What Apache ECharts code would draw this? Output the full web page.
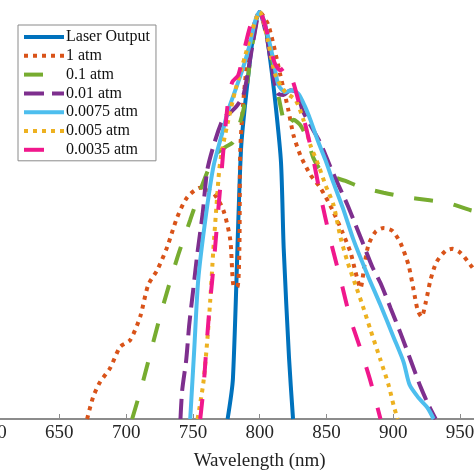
<!DOCTYPE html>
<html>
<head>
<meta charset="utf-8">
<script src="https://cdn.jsdelivr.net/npm/echarts@6/dist/echarts.min.js"></script>
<style>html,body{margin:0;padding:0;background:#fff}#c{width:474px;height:474px}</style>
</head>
<body>
<div id="c"></div>
<script>
// Series names (legend order)
const seriesNames = ['Laser Output', '1 atm', '0.1 atm', '0.01 atm', '0.0075 atm', '0.005 atm', '0.0035 atm'];
// x-axis ticks (nm)
const xTicks = [600, 650, 700, 750, 800, 850, 900, 950, 1000];

// [wavelength nm, normalized intensity]
const laserOutput = [[776,0],[780,0.1],[786,0.66],[791,0.83],[796,0.96],[800,1],[804,0.97],[808,0.88],[812,0.77],[816,0.63],[818,0.42],[822,0.15],[825,0]];
const atm1 = [[670.8,0],[675.3,0.054],[680.5,0.091],[688,0.125],[695.5,0.177],[703,0.194],[710.5,0.251],[716.5,0.329],[723.3,0.366],[730.8,0.423],[738.3,0.496],[745.8,0.545],[755.5,0.568],[765.3,0.555],[772.8,0.513],[778,0.44],[780.3,0.329],[783.3,0.324],[784.8,0.415],[785.5,0.661],[788.5,0.808],[793,0.931],[800,1],[806.5,0.968],[815.5,0.845],[821.5,0.759],[825.3,0.698],[830.5,0.648],[838,0.6],[845.5,0.568],[854.5,0.514],[862,0.459],[868,0.41],[871.8,0.361],[875.5,0.322],[878.5,0.378],[881.5,0.428],[886.8,0.46],[892.8,0.469],[899.5,0.462],[905.5,0.432],[911.5,0.378],[915.3,0.317],[918.3,0.268],[921.3,0.251],[924.3,0.285],[928,0.342],[932.5,0.386],[939.3,0.413],[944.5,0.418],[950.5,0.408],[958,0.378],[965.5,0.346],[973,0.32]];
const atm01 = [[704.5,0],[712,0.084],[720.3,0.189],[727.8,0.28],[738.3,0.396],[748,0.489],[757.8,0.582],[766.8,0.649],[774.3,0.668],[780.3,0.681],[787.8,0.759],[791.5,0.845],[794.5,0.919],[800,1],[806.5,0.931],[811.8,0.833],[817,0.747],[820,0.715],[825.3,0.735],[830.5,0.722],[835.8,0.686],[840.3,0.641],[845.5,0.612],[853,0.597],[864.3,0.585],[875.5,0.57],[892.8,0.556],[907.8,0.546],[925.8,0.538],[940.8,0.531],[958,0.513],[973,0.504]];
const atm001 = [[740.7,0],[742,0.071],[745,0.145],[747.3,0.233],[750.3,0.319],[753.3,0.405],[757.3,0.504],[760.8,0.612],[766.8,0.686],[773,0.74],[777,0.75],[783.3,0.771],[787.8,0.796],[791.5,0.857],[795.3,0.931],[800,1],[805,0.943],[809.5,0.857],[813.3,0.801],[817.8,0.796],[823,0.808],[828.3,0.801],[832,0.759],[838,0.722],[845.5,0.678],[853,0.619],[859,0.575],[865.8,0.526],[871.8,0.477],[877.8,0.428],[884.5,0.373],[890.5,0.334],[898,0.273],[905.5,0.211],[913,0.145],[920.5,0.079],[926.5,0.034],[931.8,0]];
const atm00075 = [[748,0],[751,0.17],[754,0.342],[759.3,0.489],[765.3,0.619],[772,0.703],[776.5,0.759],[781.8,0.808],[787.8,0.865],[793,0.925],[796.8,0.98],[800,1],[805,0.956],[810.3,0.882],[814,0.821],[819.3,0.803],[824.5,0.808],[829,0.799],[833.5,0.771],[838,0.735],[843.3,0.686],[849.3,0.636],[855.3,0.58],[862.8,0.514],[870.3,0.44],[880.8,0.354],[890.5,0.28],[900.3,0.201],[907.8,0.14],[912.3,0.084],[919,0.052],[925.8,0.027],[930.3,0]];
const atm0005 = [[753.5,0],[757.8,0.088],[760.8,0.194],[763,0.292],[765.3,0.415],[767.5,0.516],[769.8,0.614],[772,0.663],[776.5,0.734],[781.8,0.808],[789.3,0.894],[794.5,0.956],[800,1],[806,0.931],[811.8,0.845],[819.3,0.803],[826.8,0.784],[832.8,0.735],[838,0.673],[844,0.624],[849.3,0.575],[855.3,0.526],[860.5,0.447],[865.8,0.386],[871.8,0.329],[877,0.28],[883,0.219],[890.5,0.145],[896.5,0.084],[900.3,0.034],[903.3,0]];
const atm00035 = [[755.5,0],[757.8,0.071],[760,0.17],[762.3,0.268],[764.5,0.342],[766.8,0.428],[769,0.514],[771.3,0.6],[773.5,0.686],[776.5,0.784],[779.5,0.828],[784,0.845],[789.3,0.919],[794.5,0.98],[800,1],[805,0.956],[811,0.877],[815.5,0.857],[820,0.867],[825.3,0.826],[830.5,0.764],[834.3,0.722],[839.5,0.649],[845.5,0.55],[853,0.44],[860.5,0.344],[868,0.246],[875.5,0.172],[883,0.093],[890.5,0]];

const seriesData = [laserOutput, atm1, atm01, atm001, atm00075, atm0005, atm00035];
const colors = ['#0072BD', '#D95319', '#77AC30', '#7E2F8E', '#4DBEEE', '#EDB120', '#F0188C'];
const dashes = ['solid', [4, 5], [19, 21], [20, 8], 'solid', [4, 5], [20, 22]];

const chart = echarts.init(document.getElementById('c'), null, {renderer: 'canvas'});
const FONT = '"Liberation Serif", "Times New Roman", serif';
chart.setOption({
  animation: false,
  backgroundColor: '#fff',
  grid: {left: -7.4, right: -52.7, top: 12, bottom: 55, containLabel: false, outerBoundsMode: 'none'},
  legend: {
    orient: 'vertical', left: 18, top: 25,
    data: seriesNames,
    itemWidth: 40, itemHeight: 14, itemGap: 2.8,
    padding: [4, 6, 3, 4],
    borderColor: '#8a8a8a', borderWidth: 1, backgroundColor: '#fff',
    itemStyle: {opacity: 0, borderWidth: 0},
    lineStyle: {width: 4},
    textStyle: {fontFamily: FONT, fontSize: 16, lineHeight: 14, color: '#111', padding: [0,0,0,-3]}
  },
  xAxis: {
    type: 'value', min: xTicks[0], max: xTicks[xTicks.length - 1], interval: 50,
    name: 'Wavelength (nm)', nameLocation: 'middle', nameGap: 33,
    nameTextStyle: {fontFamily: FONT, fontSize: 19, color: '#222'},
    axisLine: {lineStyle: {color: '#8c8c8c', width: 2}},
    axisTick: {inside: true, length: 5, lineStyle: {color: '#8c8c8c', width: 1}},
    axisLabel: {fontFamily: FONT, fontSize: 19, color: '#262626', margin: 5, formatter: v => String(v)},
    splitLine: {show: false}
  },
  yAxis: {type: 'value', min: 0, max: 1, show: false},
  series: seriesNames.map((n, i) => ({
    name: n, type: 'line', data: seriesData[i], smooth: 0.25,
    showSymbol: false, symbol: 'none',
    lineStyle: {color: colors[i], width: 4, type: dashes[i], cap: 'butt'},
    itemStyle: {color: colors[i]},
    z: 2 + i
  }))
});
</script>
</body>
</html>
